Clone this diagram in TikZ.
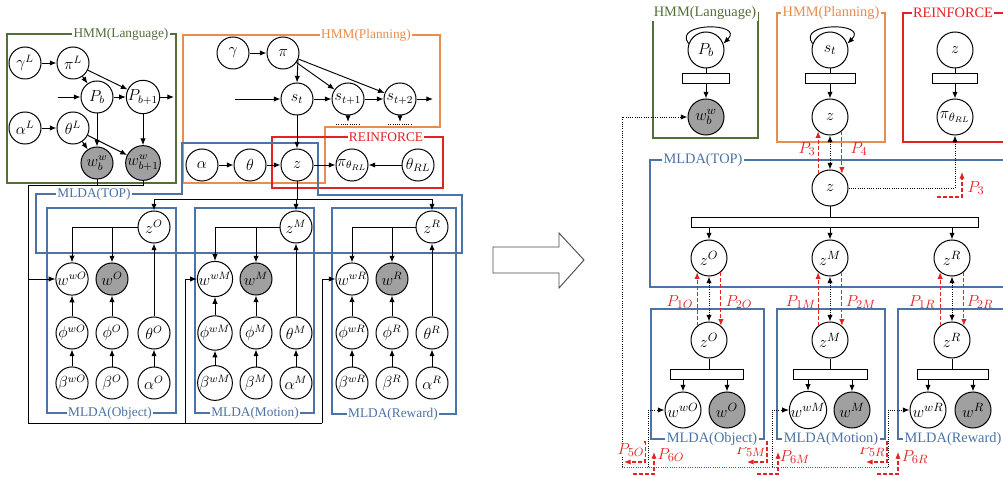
\documentclass[tikz,border=0pt]{standalone}
\usepackage{fontspec}
\setmainfont{Liberation Serif}
\usetikzlibrary{arrows.meta,calc}
\definecolor{cg}{RGB}{84,110,56}
\definecolor{co}{RGB}{232,140,80}
\definecolor{cr}{RGB}{225,35,35}
\definecolor{cb}{RGB}{75,115,165}
\definecolor{obsg}{RGB}{160,160,160}
\tikzset{
 ln/.style={circle,draw,fill=white,line width=0.75pt,minimum size=24pt,inner sep=0pt,font=\fontsize{11.5}{13}\selectfont},
 rn/.style={circle,draw,fill=white,line width=0.75pt,minimum size=27pt,inner sep=0pt,font=\fontsize{12.5}{14}\selectfont},
 obs/.style={fill=obsg},
 arr/.style={-{Latex[length=5pt,width=4pt]},line width=0.7pt},
 darr/.style={densely dotted,line width=0.7pt,-{Latex[length=5pt,width=4pt]}},
 ddarr/.style={densely dotted,line width=0.7pt,{Latex[length=5pt,width=4pt]}-{Latex[length=5pt,width=4pt]}},
 rarr/.style={cr,dashed,dash pattern=on 3pt off 1.5pt,line width=0.8pt,-{Latex[length=5pt,width=4pt]}},
 lab/.style={fill=white,inner sep=1pt,font=\fontsize{10}{12}\selectfont},
 labR/.style={fill=white,inner sep=1pt,font=\fontsize{10.8}{13}\selectfont},
 plab/.style={text=cr,inner sep=0pt,font=\fontsize{12.5}{14}\selectfont},
 boxl/.style={line width=1pt},
 barn/.style={draw,fill=white,line width=0.75pt,minimum height=7.5pt,inner sep=0pt},
}
\begin{document}
\begin{tikzpicture}[x=0.75pt,y=-0.75pt]
\fill[white] (0,0) rectangle (1003,477);
\useasboundingbox (0,0) rectangle (1003,477);

%================ LEFT DIAGRAM ================
\draw[cg,boxl] (7,34) rectangle (176,183);
\node[lab,text=cg] (lHL) at (121,34) {HMM(Language)};
\draw[co,boxl] (183,35) -- (440,35) -- (440,127) -- (325,127) -- (325,183) -- (183,183) -- cycle;
\node[lab,text=co] (lHP) at (366,35) {HMM(Planning)};
\draw[cr,boxl] (272,137) rectangle (443,188);
\node[lab,text=cr] (lRE) at (386,137) {REINFORCE};
\draw[cb,boxl] (182,143) -- (318,143) -- (318,195) -- (462,195) -- (462,253) -- (36,253) -- (36,194) -- (182,194) -- cycle;
\node[lab,text=cb] (lTOP) at (94,194) {MLDA(TOP)};
\draw[cb,boxl] (47,208) rectangle (176,413);
\draw[cb,boxl] (195,208) rectangle (314,413);
\draw[cb,boxl] (332,208) rectangle (456,414);

% language HMM nodes
\node[ln] (gL) at (25,63) {$\gamma^L$};
\node[ln] (piL) at (73,63) {$\pi^L$};
\node[ln] (Pb) at (97,97) {$P_b$};
\node[ln] (Pb1) at (143,97) {$P_{b+1}$};
\node[ln] (aL) at (25,128) {$\alpha^L$};
\node[ln] (thL) at (73,128) {$\theta^L$};
\node[ln,obs] (wb) at (97,163) {$w_b^w$};
\node[ln,obs] (wb1) at (143,163) {$w_{b+1}^w$};
\draw[arr] (gL) -- (piL);
\draw[arr] (aL) -- (thL);
\draw[arr] (piL) -- (Pb);
\draw[arr] (piL) -- (Pb1);
\draw[arr] (thL) -- (wb);
\draw[arr] (thL) -- (wb1);
\draw[arr] (Pb) -- (wb);
\draw[arr] (Pb1) -- (wb1);
\draw[arr] (Pb) -- (Pb1);
\coordinate (PbIn) at (58,97);
\coordinate (PbOut) at (174,97);
\draw[arr] (PbIn) -- (Pb);
\draw[arr] (Pb1) -- (PbOut);

% planning HMM nodes
\node[ln] (gam) at (233,53) {$\gamma$};
\node[ln] (pi) at (283,53) {$\pi$};
\node[ln] (st) at (297,99) {$s_t$};
\node[ln] (st1) at (348,99) {$s_{t+1}$};
\node[ln] (st2) at (400,99) {$s_{t+2}$};
\node[ln] (al) at (202,165) {$\alpha$};
\node[ln] (th) at (250,165) {$\theta$};
\node[ln] (z) at (297,165) {$z$};
\node[ln] (piRL) at (352,165) {$\pi_{\theta_{RL}}$};
\node[ln] (thRL) at (418,165) {$\theta_{RL}$};
\draw[arr] (gam) -- (pi);
\draw[arr] (pi.-25) -- (st.north);
\draw[arr] (pi) -- (st1);
\draw[arr] (pi) -- (st2);
\coordinate (stIn) at (235,99);
\coordinate (stOut) at (433,99);
\draw[arr] (stIn) -- (st);
\draw[arr] (st) -- (st1);
\draw[arr] (st1) -- (st2);
\draw[arr] (st2) -- (stOut);
\coordinate (d1) at (348,122);
\coordinate (d2) at (400,122);
\draw[arr] (st1) -- (d1);
\draw[arr] (st2) -- (d2);
\draw[densely dotted,line width=0.7pt] (336,124) -- (360,124);
\draw[densely dotted,line width=0.7pt] (388,124) -- (412,124);
\draw[arr] (st) -- (z);
\draw[arr] (al) -- (th);
\draw[arr] (th) -- (z);
\draw[arr] (z) -- (piRL);
\draw[arr] (thRL) -- (piRL);

% MLDA Object
\node[ln] (zO) at (154,227) {$z^O$};
\node[ln] (wwO) at (72,279) {$w^{wO}$};
\node[ln,obs] (wO) at (112,279) {$w^O$};
\node[ln] (phwO) at (72,333) {$\phi^{wO}$};
\node[ln] (phO) at (112,333) {$\phi^O$};
\node[ln] (thO) at (154,333) {$\theta^O$};
\node[ln] (bwO) at (72,383) {$\beta^{wO}$};
\node[ln] (bO) at (112,383) {$\beta^O$};
\node[ln] (aO) at (154,383) {$\alpha^O$};
% MLDA Motion
\node[ln] (zM) at (296,227) {$z^M$};
\node[ln] (wwM) at (215,279) {$w^{wM}$};
\node[ln,obs] (wM) at (256,279) {$w^M$};
\node[ln] (phwM) at (215,333) {$\phi^{wM}$};
\node[ln] (phM) at (256,333) {$\phi^M$};
\node[ln] (thM) at (296,333) {$\theta^M$};
\node[ln] (bwM) at (215,383) {$\beta^{wM}$};
\node[ln] (bM) at (256,383) {$\beta^M$};
\node[ln] (aM) at (296,383) {$\alpha^M$};
% MLDA Reward
\node[ln] (zR) at (432,227) {$z^R$};
\node[ln] (wwR) at (352,279) {$w^{wR}$};
\node[ln,obs] (wR) at (392,279) {$w^R$};
\node[ln] (phwR) at (352,333) {$\phi^{wR}$};
\node[ln] (phR) at (392,333) {$\phi^R$};
\node[ln] (thR) at (432,333) {$\theta^R$};
\node[ln] (bwR) at (352,383) {$\beta^{wR}$};
\node[ln] (bR) at (392,383) {$\beta^R$};
\node[ln] (aR) at (432,383) {$\alpha^R$};

\foreach \s in {O,M,R}{
  \draw[arr] (z\s.west) -| (ww\s.north);
  \draw[arr] (z\s.west -| w\s) -- (w\s.north);
  \draw[arr] (phw\s) -- (ww\s);
  \draw[arr] (ph\s) -- (w\s);
  \draw[arr] (th\s) -- (z\s);
  \draw[arr] (bw\s) -- (phw\s);
  \draw[arr] (b\s) -- (ph\s);
  \draw[arr] (a\s) -- (th\s);
}
\coordinate (zb) at (297,199);
\draw[line width=0.7pt] (z.south) -- (zb);
\draw[line width=0.7pt] (zO |- zb) -- (zR |- zb);
\draw[arr] (zO |- zb) -- (zO.north);
\draw[arr] (zM |- zb) -- (zM.north);
\draw[arr] (zR |- zb) -- (zR.north);

% language wires
\coordinate (LL) at (28,185);
\coordinate (LB) at (28,423);
\coordinate (MB) at (185,423);
\coordinate (RB) at (322,423);
\draw[line width=0.7pt] (wb.south) -- (wb.south |- LL);
\draw[line width=0.7pt] (wb1.south) -- (wb1.south |- LL) -- (LL) -- (LB) -- (RB);
\draw[arr] (LL |- wwO) -- (wwO.west);
\draw[arr] (MB) |- (wwM.west);
\draw[arr] (RB) |- (wwR.west);

\node[lab,text=cb] (lOb) at (110,413) {MLDA(Object)};
\node[lab,text=cb] (lMo) at (255,413) {MLDA(Motion)};
\node[lab,text=cb] (lRw) at (393,414) {MLDA(Reward)};

%================ BIG ARROW ================
\draw[line width=0.7pt,draw=black!70,fill=white] (493,247) -- (559,247) -- (559,233) -- (584,260) -- (559,288) -- (559,273) -- (493,273) -- cycle;

%================ RIGHT DIAGRAM ================
\draw[cg,boxl] (653,13) rectangle (758,138);
\node[labR,text=cg] (rHL) at (705,13) {HMM(Language)};
\draw[co,boxl] (777,13) rectangle (885,142);
\node[labR,text=co] (rHP) at (831,13) {HMM(Planning)};
\draw[cr,boxl] (903,13) rectangle (1012,142);
\node[labR,text=cr] (rRE) at (953,13) {REINFORCE};
\draw[cb,boxl] (650,160) rectangle (1012,287);
\node[labR,text=cb] (rTOP) at (703,160) {MLDA(TOP)};
\draw[cb,boxl] (651,309) rectangle (764,439);
\draw[cb,boxl] (777,309) rectangle (885,439);
\draw[cb,boxl] (898,309) rectangle (1012,439);

\node[rn] (PbR) at (706,50) {$P_b$};
\node[barn,minimum width=35.25pt] (bPb) at (706,79) {};
\node[rn,obs] (wbR) at (706,117) {$w_b^w$};
\node[rn] (stR) at (830,50) {$s_t$};
\node[barn,minimum width=37.5pt] (bst) at (830,79) {};
\node[rn] (zP) at (830,117) {$z$};
\node[rn] (zRL) at (955,50) {$z$};
\node[barn,minimum width=33.75pt] (bRL) at (955,79) {};
\node[rn] (piR) at (955,117) {$\pi_{\theta_{RL}}$};
\draw[line width=0.7pt] (PbR) -- (bPb);
\draw[arr] (bPb) -- (wbR);
\draw[line width=0.7pt] (stR) -- (bst);
\draw[arr] (bst) -- (zP);
\draw[line width=0.7pt] (zRL) -- (bRL);
\draw[arr] (bRL) -- (piR);
\draw[arr] (PbR.160) .. controls (672,22) and (745,22) .. (PbR.20);
\draw[arr] (stR.160) .. controls (796,22) and (869,22) .. (stR.20);

\node[rn] (zT) at (830,188) {$z$};
\node[barn,minimum width=215.25pt,minimum height=7pt] (bT) at (834.5,222.5) {};
\node[rn] (zOt) at (709,258) {$z^O$};
\node[rn] (zMt) at (830,258) {$z^M$};
\node[rn] (zRt) at (952,258) {$z^R$};
\draw[line width=0.7pt] (zT.south) -- (zT.south |- bT.north);
\draw[arr] (bT.south -| zOt) -- (zOt.north);
\draw[arr] (bT.south -| zMt) -- (zMt.north);
\draw[arr] (bT.south -| zRt) -- (zRt.north);

\node[rn] (zOb) at (709,340) {$z^O$};
\node[barn,minimum width=54.75pt,minimum height=8pt] (bOb) at (706.5,374.5) {};
\node[rn] (wwOb) at (683,410) {$w^{wO}$};
\node[rn,obs] (wOb) at (727,410) {$w^O$};
\node[rn] (zMb) at (830,340) {$z^M$};
\node[barn,minimum width=55.5pt,minimum height=8pt] (bMb) at (830,374.5) {};
\node[rn] (wwMb) at (808,410) {$w^{wM}$};
\node[rn,obs] (wMb) at (852,410) {$w^M$};
\node[rn] (zRb) at (952,340) {$z^R$};
\node[barn,minimum width=53.25pt,minimum height=8pt] (bRb) at (952.5,374.5) {};
\node[rn] (wwRb) at (928,410) {$w^{wR}$};
\node[rn,obs] (wRb) at (973,410) {$w^R$};
\foreach \s in {O,M,R}{
  \draw[line width=0.7pt] (z\s b.south) -- (z\s b.south |- b\s b.north);
  \draw[arr] (b\s b.south -| ww\s b) -- (ww\s b.north);
  \draw[arr] (b\s b.south -| w\s b) -- (w\s b.north);
  \draw[ddarr] (z\s t.south) -- (z\s b.north);
  \draw[rarr] (z\s b.130) -- (z\s t.230);
  \draw[rarr] (z\s t.-50) -- (z\s b.50);
}
\node[plab] at (680,302) {$P_{1O}$};
\node[plab] at (739,302) {$P_{2O}$};
\node[plab] at (801,302) {$P_{1M}$};
\node[plab] at (861,302) {$P_{2M}$};
\node[plab] at (922,302) {$P_{1R}$};
\node[plab] at (980,302) {$P_{2R}$};

\draw[ddarr] (zP.south) -- (zT.north);
\draw[rarr] (zT.130) -- (zP.230);
\draw[rarr] (zP.-50) -- (zT.50);
\node[plab] at (807,149) {$P_3$};
\node[plab] at (859,149) {$P_4$};
\draw[darr] (zT.east) -| (piR.south);
\coordinate (p3a) at (937,197);
\coordinate (p3b) at (962,197);
\coordinate (p3c) at (962,172);
\draw[rarr] (p3a) -- (p3b) -- (p3c);
\node[plab] at (976,188) {$P_3$};

\coordinate (L1) at (622,467);
\coordinate (L2) at (888,467);
\coordinate (Ob) at (648,467);
\coordinate (Mb) at (772,467);
\draw[darr] (L1) |- (wbR.west);
\draw[cr,densely dotted,line width=0.7pt] (L1) -- (L2);
\draw[darr] (Ob) |- (wwOb.west);
\draw[darr] (Mb) |- (wwMb.west);
\draw[darr] (L2) |- (wwRb.west);

\coordinate (q5Oa) at (645,441); \coordinate (q5Ob) at (645,462); \coordinate (q5Oc) at (624,462);
\draw[rarr] (q5Oa) -- (q5Ob) -- (q5Oc);
\node[plab,fill=white,inner sep=0.3pt] at (631,450) {$P_{5O}$};
\coordinate (q6Oa) at (633,474); \coordinate (q6Ob) at (654,474); \coordinate (q6Oc) at (654,452);
\draw[rarr] (q6Oa) -- (q6Ob) -- (q6Oc);
\node[plab] at (671,455) {$P_{6O}$};

\coordinate (q5Ma) at (767,441); \coordinate (q5Mb) at (767,462); \coordinate (q5Mc) at (747,462);
\draw[rarr] (q5Ma) -- (q5Mb) -- (q5Mc);
\node[plab,fill=white,inner sep=0.3pt] at (751,450) {$P_{5M}$};
\coordinate (q6Ma) at (757,474); \coordinate (q6Mb) at (778,474); \coordinate (q6Mc) at (778,452);
\draw[rarr] (q6Ma) -- (q6Mb) -- (q6Mc);
\node[plab] at (795,457) {$P_{6M}$};

\coordinate (q5Ra) at (887,441); \coordinate (q5Rb) at (887,462); \coordinate (q5Rc) at (866,462);
\draw[rarr] (q5Ra) -- (q5Rb) -- (q5Rc);
\node[plab,fill=white,inner sep=0.3pt] at (872,450) {$P_{5R}$};
\coordinate (q6Ra) at (877,474); \coordinate (q6Rb) at (898,474); \coordinate (q6Rc) at (898,452);
\draw[rarr] (q6Ra) -- (q6Rb) -- (q6Rc);
\node[plab] at (915,457) {$P_{6R}$};

\node[labR,text=cb] (rOb) at (712,439) {MLDA(Object)};
\node[labR,text=cb] (rMo) at (831,439) {MLDA(Motion)};
\node[labR,text=cb] (rRw) at (953,439) {MLDA(Reward)};
\end{tikzpicture}
\end{document}
